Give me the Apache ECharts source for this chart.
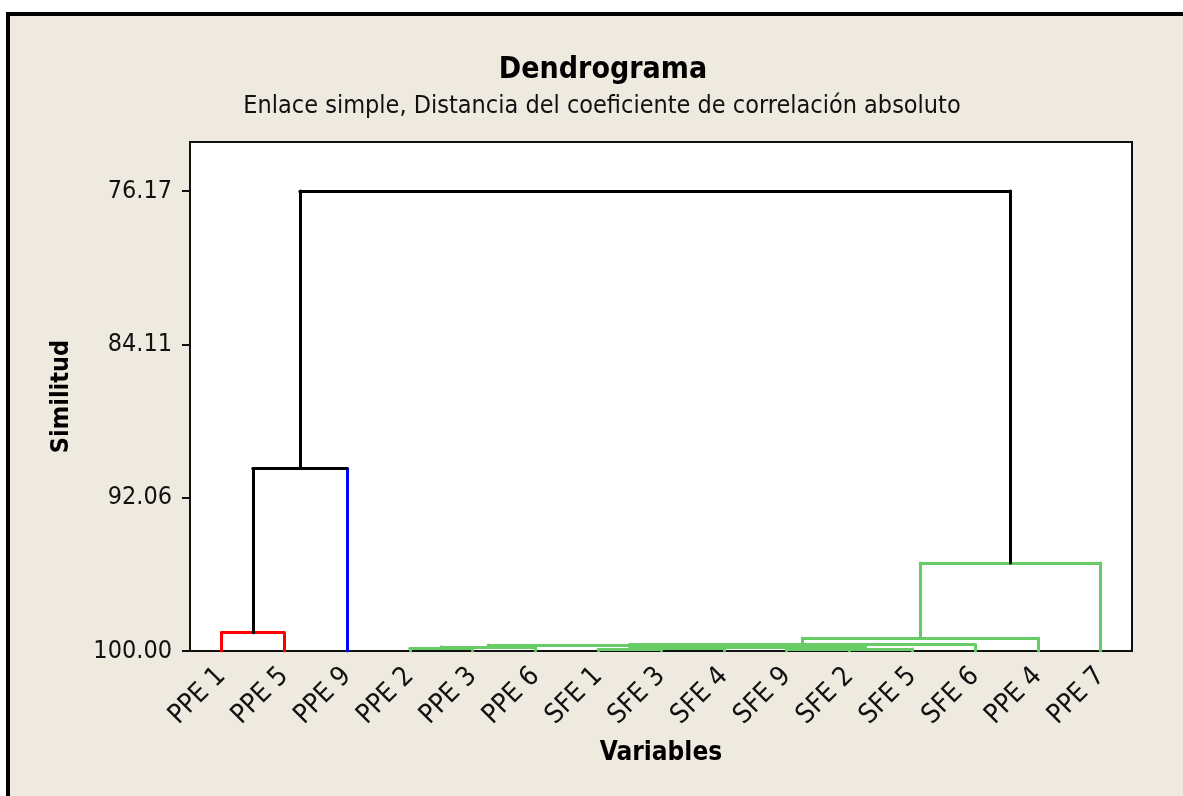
<!DOCTYPE html>
<html><head><meta charset="utf-8">
<script src="https://cdn.jsdelivr.net/npm/echarts@6/dist/echarts.min.js"></script>
<style>
html,body{margin:0;padding:0;background:#fff;width:1183px;height:796px;overflow:hidden;}
#frame{position:absolute;left:6px;top:12px;width:1300px;height:900px;border-left:4px solid #000;border-top:4px solid #000;background:#EEEAE0;}
#main{position:absolute;left:0;top:0;width:1183px;height:796px;}
</style></head><body><div id="frame"></div><div id="main"></div>
<script>
// ---- data ----
const categories = ['PPE 1','PPE 5','PPE 9','PPE 2','PPE 3','PPE 6','SFE 1','SFE 3','SFE 4','SFE 9','SFE 2','SFE 5','SFE 6','PPE 4','PPE 7'];
const yTickValues = [76.17, 84.11, 92.06, 100.00];
const yMin = 73.63;
const yMax = 100;
// linkage: node ids 0..14 are leaves (in display order), merge k creates node 15+k
const mergeLeft  = [0, 15, 3, 17, 6, 19, 9, 21, 20, 18, 24, 25, 26, 16];
const mergeRight = [1,  2, 4,  5, 7,  8, 10, 11, 22, 23, 12, 13, 14, 27];
const mergeSimilarity = [99.05, 90.55, 99.87, 99.78, 99.92, 99.87, 99.92, 99.89, 99.79, 99.69, 99.66, 99.33, 95.44, 76.17];
const leafGroup = [0,0,1,2,2,2,2,2,2,2,2,2,2,2,2];
const groupColors = ['#FF0000','#0000FF','#66CC66'];

const FONT = '"DejaVu Sans Condensed","DejaVu Sans",sans-serif';
const N = categories.length;
const nodeX = categories.map((_, i) => i);
const nodeH = categories.map(() => 100);
const nodeGroup = leafGroup.slice();
const segs = [];
function seg(x1, y1, x2, y2, c) { segs.push({coords: [[x1, y1], [x2, y2]], lineStyle: {color: c}}); }
for (let k = 0; k < mergeLeft.length; k++) {
  const l = mergeLeft[k], r = mergeRight[k], h = mergeSimilarity[k];
  const g = nodeGroup[l] === nodeGroup[r] ? nodeGroup[l] : -1;
  const c = g >= 0 ? groupColors[g] : '#000000';
  const legColor = id => g >= 0 ? c : (id < N ? groupColors[leafGroup[id]] : '#000000');
  seg(nodeX[l], nodeH[l], nodeX[l], h, legColor(l));
  seg(nodeX[r], nodeH[r], nodeX[r], h, legColor(r));
  seg(nodeX[l], h, nodeX[r], h, c);
  nodeX.push((nodeX[l] + nodeX[r]) / 2);
  nodeH.push(h);
  nodeGroup.push(g);
}

const chart = echarts.init(document.getElementById('main'), null, {renderer: 'canvas'});
chart.setOption({
  backgroundColor: 'transparent',
  animation: false,
  title: [
    {text: 'Dendrograma', left: 598, top: 50, textAlign: 'center',
     textStyle: {fontFamily: FONT, fontSize: 30, fontWeight: 'bold', color: '#000'}},
    {text: 'Enlace simple, Distancia del coeficiente de correlación absoluto', left: 597, top: 89, textAlign: 'center',
     textStyle: {fontFamily: FONT, fontSize: 25, fontWeight: 'normal', color: '#111'}}
  ],
  grid: {left: 190, right: 51, top: 142, bottom: 145, show: true, backgroundColor: '#fff', borderColor: '#111', borderWidth: 2},
  xAxis: [
    {type: 'category', data: categories, boundaryGap: true,
     axisLine: {onZero: false, lineStyle: {color: '#111', width: 2}},
     axisTick: {alignWithLabel: true, length: 6, lineStyle: {color: '#111', width: 2}},
     axisLabel: {rotate: 45, interval: 0, fontFamily: FONT, fontSize: 27, color: '#111', margin: 21},
     name: 'Variables', nameLocation: 'middle', nameGap: 89,
     nameTextStyle: {fontFamily: FONT, fontSize: 26, fontWeight: 'bold', color: '#000'}},
    {type: 'value', min: -0.5, max: 14.5, show: false}
  ],
  yAxis: {type: 'value', inverse: true, min: yMin, max: yMax,
    name: 'Similitud', nameLocation: 'middle', nameGap: 116,
    nameTextStyle: {fontFamily: FONT, fontSize: 25, fontWeight: 'bold', color: '#000'},
    axisLine: {show: true, onZero: false, lineStyle: {color: '#111', width: 2}},
    axisTick: {show: true, customValues: yTickValues, length: 8, lineStyle: {color: '#111', width: 2}},
    axisLabel: {customValues: yTickValues, formatter: v => v.toFixed(2), fontFamily: FONT, fontSize: 25, color: '#111', margin: 18},
    splitLine: {show: false}},
  series: [{
    type: 'lines', coordinateSystem: 'cartesian2d', xAxisIndex: 1, yAxisIndex: 0,
    polyline: false, silent: true, z: 3,
    lineStyle: {width: 3, opacity: 1, cap: 'round'},
    data: segs
  }]
});
</script></body></html>
